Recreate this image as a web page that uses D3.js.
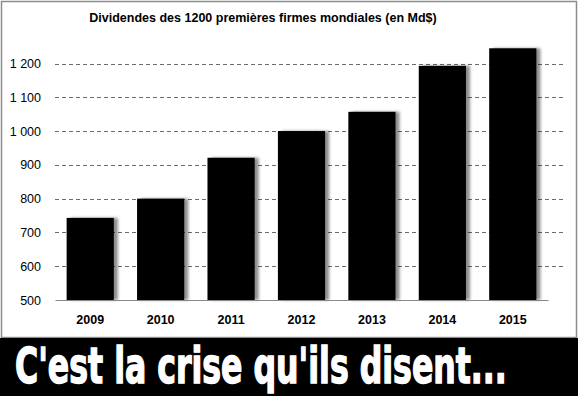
<!DOCTYPE html>
<html>
<head>
<meta charset="utf-8">
<script src="https://cdn.jsdelivr.net/npm/d3@7"></script>
<style>
  body { margin: 0; background: #fff; }
  svg { display: block; }
</style>
</head>
<body>
<div id="chart"></div>
<script>
// data
var years = ["2009", "2010", "2011", "2012", "2013", "2014", "2015"];
var dividends = [743, 800, 921, 1000, 1057, 1193, 1245];
var yTicks = [500, 600, 700, 800, 900, 1000, 1100, 1200];

var W = 578, H = 396;

var svg = d3.select("#chart")
  .append("svg")
    .attr("width", W)
    .attr("height", H);

// drop shadow for the bars
var defs = svg.append("defs");
var f = defs.append("filter")
    .attr("id", "shadow")
    .attr("x", "-20%").attr("y", "-20%")
    .attr("width", "150%").attr("height", "140%");
f.append("feGaussianBlur").attr("in", "SourceAlpha").attr("stdDeviation", 1.6).attr("result", "blur");
f.append("feOffset").attr("in", "blur").attr("dx", 4).attr("dy", 0).attr("result", "off");
f.append("feComponentTransfer").attr("in", "off").attr("result", "soft")
  .append("feFuncA").attr("type", "linear").attr("slope", 0.45);
var merge = f.append("feMerge");
merge.append("feMergeNode").attr("in", "soft");
merge.append("feMergeNode").attr("in", "SourceGraphic");

// white frame with grey border
svg.append("rect")
    .attr("x", 1.5).attr("y", 1.5)
    .attr("width", W - 3).attr("height", 336)
    .attr("fill", "#fff")
    .attr("stroke", "#8c8c8c")
    .attr("stroke-width", 1.5);

// black banner at the bottom
svg.append("rect")
    .attr("x", 0).attr("y", 338)
    .attr("width", W).attr("height", H - 338)
    .attr("fill", "#000");

// scales
var x = d3.scaleBand()
    .domain(years)
    .range([55, 548])
    .paddingInner(0.33)
    .paddingOuter(0.165);

var y = d3.scaleLinear()
    .domain([500, 1200])
    .range([300, 63.5]);

// grid lines
svg.append("g")
  .selectAll("line")
  .data(yTicks.slice(1))
  .enter()
  .append("line")
    .attr("x1", 55).attr("x2", 563)
    .attr("y1", function (d) { return Math.round(y(d)) + 0.5; })
    .attr("y2", function (d) { return Math.round(y(d)) + 0.5; })
    .attr("stroke", "#6a6a6a")
    .attr("stroke-dasharray", "4,3");

// y axis labels
var yAxis = svg.append("g")
    .attr("transform", "translate(41,0)")
    .call(d3.axisLeft(y).tickValues(yTicks).tickSize(0).tickPadding(0)
      .tickFormat(function (d) { return d3.format(",")(d).replace(",", " "); }));
yAxis.select(".domain").remove();
yAxis.selectAll("text")
    .style("font-family", "Liberation Sans, Arial, sans-serif")
    .style("font-size", "12.5px")
    .attr("fill", "#000");

// bars
svg.append("g")
  .selectAll("rect")
  .data(dividends)
  .enter()
  .append("rect")
    .attr("x", function (d, i) { return x(years[i]); })
    .attr("y", function (d) { return y(d); })
    .attr("width", x.bandwidth())
    .attr("height", function (d) { return y(500) - y(d); })
    .attr("fill", "#000")
    .attr("filter", "url(#shadow)");

// x axis
var xAxis = svg.append("g")
    .attr("transform", "translate(0,300)")
    .call(d3.axisBottom(x).tickSize(0).tickPadding(15));
xAxis.select(".domain")
    .attr("stroke", "#888")
    .attr("stroke-width", 1.2);
xAxis.selectAll("text")
    .style("font-family", "Liberation Sans, Arial, sans-serif")
    .style("font-size", "12.5px")
    .style("font-weight", "bold")
    .attr("fill", "#000");

// title
svg.append("text")
    .attr("x", 263).attr("y", 22)
    .attr("text-anchor", "middle")
    .style("font-family", "Liberation Sans, Arial, sans-serif")
    .style("font-size", "12.5px")
    .style("font-weight", "bold")
    .text("Dividendes des 1200 premières firmes mondiales (en Md$)");

// banner text, squeezed horizontally to look like Impact
var banner = svg.append("g");
var bt = banner.append("text")
    .attr("x", 0).attr("y", 0)
    .style("font-family", "Liberation Sans Narrow, DejaVu Sans Condensed, sans-serif")
    .style("font-size", "49px")
    .style("font-weight", "bold")
    .attr("fill", "#fff")
    .attr("stroke", "#fff")
    .attr("stroke-width", 1.4)
    .text("C'est la crise qu'ils disent...");
var sx = 492 / bt.node().getComputedTextLength();
banner.attr("transform", "translate(15,383) scale(" + sx + ",1)");
</script>
</body>
</html>
